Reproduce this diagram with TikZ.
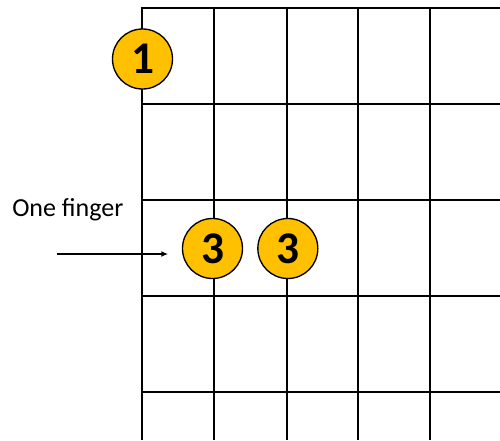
\documentclass[tikz,border=0pt]{standalone}
\usepackage{fontspec}
\setmainfont{Carlito}
\usetikzlibrary{arrows.meta,positioning,calc}
\definecolor{fingergold}{HTML}{FFC000}

\begin{document}
\begin{tikzpicture}[
  x=0.75pt, y=-0.75pt,
  >={Latex[length=5pt,width=4.5pt]},
  fret/.style={line width=1.5pt},
  finger/.style={circle, draw, line width=1pt, fill=fingergold, minimum size=45pt, inner sep=0pt, font=\fontsize{34}{34}\selectfont\bfseries},
  note/.style={font=\fontsize{19.5}{22}\selectfont, inner sep=0pt}
]
\useasboundingbox (0,0) rectangle (500,440);

% frets and strings
\foreach \y in {8,104,200,296,392}
  \draw[fret] (141,\y) -- (500,\y);
\foreach \x in {142,214,287,358,430}
  \draw[fret] (\x,8) -- (\x,440);

\node[finger] (one) at (142.5,59) {1};
\node[finger] (threeA) at (212.5,248.5) {3};
\node[finger, right=10.5pt of threeA] (threeB) {3};

\node[note, anchor=west] (label) at (12,210) {One finger};
\coordinate (tail) at (57,254);
\coordinate (tip) at (168,254);
\draw[->, line width=1pt] (tail) -- (tip);

\end{tikzpicture}
\end{document}
